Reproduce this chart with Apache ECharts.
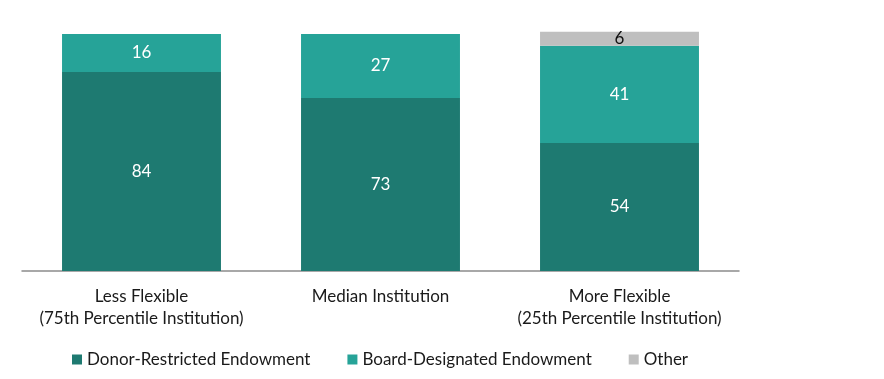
<!DOCTYPE html>
<html>
<head>
<meta charset="utf-8">
<script src="https://cdn.jsdelivr.net/npm/echarts@6/dist/echarts.min.js"></script>
<style>html,body{margin:0;padding:0;background:#fff}#c{width:884px;height:379px}</style>
</head>
<body>
<div id="c"></div>
<script>
var categories = ['Less Flexible\n(75th Percentile Institution)', 'Median Institution', 'More Flexible\n(25th Percentile Institution)'];
var donorRestricted = [84, 73, 54];
var boardDesignated = [16, 27, 41];
var other = [null, null, 6];
var seriesNames = ['Donor-Restricted Endowment', 'Board-Designated Endowment', 'Other'];
var colors = ['#1e7a71', '#26a398', '#bfbfbf'];

var FONT = 'Lato, "Noto Sans", sans-serif';
var chart = echarts.init(document.getElementById('c'), null, {renderer: 'canvas'});
function mk(name, data, color, labelColor) {
  return {
    name: name, type: 'bar', stack: 'a', data: data, barWidth: '66.5%', clip: false,
    itemStyle: {color: color},
    label: {show: true, position: 'inside', color: labelColor, fontFamily: FONT, fontSize: 17,
      formatter: function (p) { return p.value == null ? '' : p.value; }}
  };
}
chart.setOption({
  animation: false,
  grid: {left: 22, right: 145, top: 34, bottom: 108},
  legend: {
    left: 67, top: 346, itemWidth: 10, itemHeight: 10, itemGap: 37, icon: 'rect',
    textStyle: {fontFamily: FONT, fontSize: 17, color: '#1a1a1a'},
    data: seriesNames
  },
  xAxis: {
    type: 'category', data: categories,
    axisLine: {lineStyle: {color: '#8c8c8c', width: 1.5}},
    axisTick: {show: false},
    axisLabel: {fontFamily: FONT, fontSize: 17, color: '#1a1a1a', lineHeight: 22, margin: 15, interval: 0}
  },
  yAxis: {type: 'value', min: 0, max: 100, show: false, splitLine: {show: false}},
  series: [
    mk(seriesNames[0], donorRestricted, colors[0], '#fff'),
    mk(seriesNames[1], boardDesignated, colors[1], '#fff'),
    mk(seriesNames[2], other, colors[2], '#111')
  ]
});
</script>
</body>
</html>
